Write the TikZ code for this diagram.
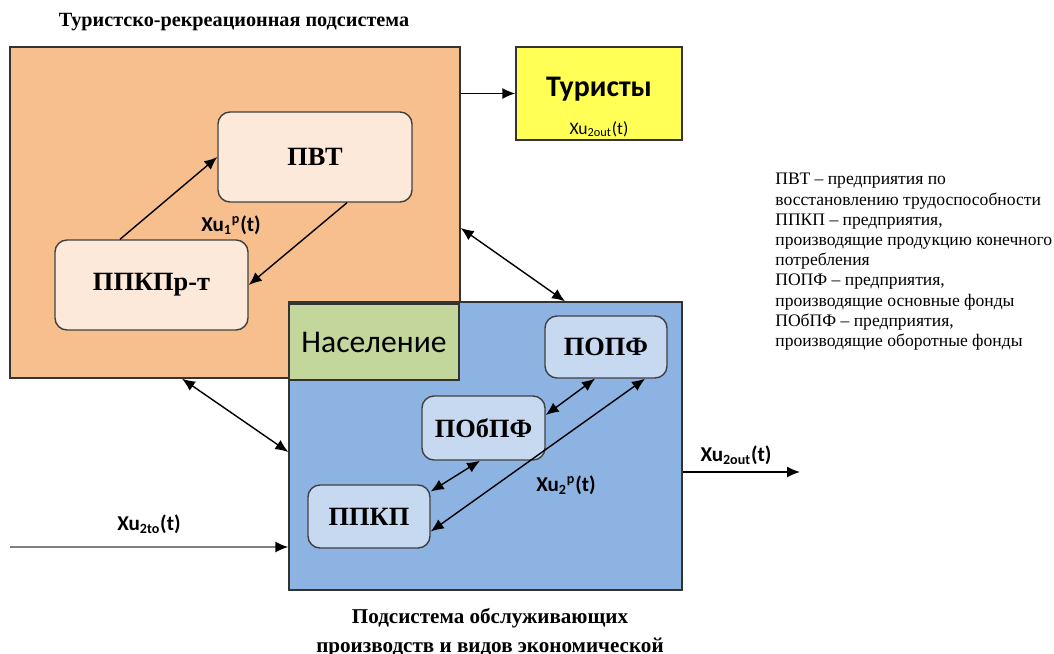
\documentclass[tikz,border=0pt]{standalone}
\usepackage{fontspec}
\setmainfont{Liberation Serif}
\newfontfamily\calibri{Carlito}
\usetikzlibrary{arrows.meta}
\definecolor{trsorange}{HTML}{F8BF8E}
\definecolor{srvblue}{HTML}{8DB3E2}
\definecolor{popgreen}{HTML}{C3D69B}
\definecolor{turyellow}{HTML}{FFFF55}
\definecolor{peach}{HTML}{FDE9D9}
\definecolor{lightblue}{HTML}{C6D9F1}
\begin{document}
\begin{tikzpicture}[x=0.2mm,y=-0.2mm,
    >={Latex[length=2.6mm,width=2.2mm]},
    frame/.style={draw=black!80,thick},
    subbox/.style={draw=black!75,thick,rounded corners=2.4mm,font=\fontsize{15}{17}\selectfont\bfseries},
    lbl/.style={font=\calibri\fontsize{12}{14}\selectfont\bfseries},
    link/.style={thick,->}]
        \useasboundingbox (0,0) rectangle (1054,653);
        %% subsystems
        \node[frame,fill=trsorange,minimum width=90mm,minimum height=66.2mm] (trs) at (235,212.5) {};
        \node[frame,fill=srvblue,minimum width=78.6mm,minimum height=57.6mm] (srv) at (485.5,446) {};
        \node[frame,fill=popgreen,minimum width=34mm,minimum height=15.2mm,font=\calibri\fontsize{18}{20}\selectfont] (pop) at (374,342) {Население};
        \node[font=\fontsize{11.5}{14}\selectfont\bfseries] (trstitle) at (234,22) {Туристско-рекреационная подсистема};
        \node[font=\fontsize{12}{16.3}\selectfont\bfseries,align=center] (srvtitle) at (490,633) {Подсистема обслуживающих\\производств и видов экономической};
        %% tourists
        \node[frame,fill=turyellow,minimum width=33.2mm,minimum height=18.6mm] (tur) at (599,93.5) {};
        \node[font=\calibri\fontsize{17}{19}\selectfont\bfseries] (turname) at (599,89) {Туристы};
        \node[font=\calibri\fontsize{10}{11}\selectfont] (turout) at (599,129) {Xu\textsubscript{2out}(t)};
        \draw[link] (trs.east |- tur.west) -- (tur.west);
        %% tourist-recreation enterprises
        \node[subbox,fill=peach,minimum width=38.8mm,minimum height=18mm] (pvt) at (315,157) {ПВТ};
        \node[subbox,fill=peach,minimum width=38.6mm,minimum height=18mm] (ppkprt) at (151.5,285) {ППКПр-т};
        \draw[link] ([xshift=-6.3mm]ppkprt.north) -- (pvt.west);
        \draw[link] ([xshift=6.4mm]pvt.south) -- (ppkprt.east);
        \node[lbl] (xu1) at (231,225) {Xu\textsubscript{1}\textsuperscript{p}(t)};
        %% service enterprises
        \node[subbox,fill=lightblue,minimum width=24.4mm,minimum height=12.4mm] (popf) at (606,347) {ПОПФ};
        \node[subbox,fill=lightblue,minimum width=24.6mm,minimum height=12.8mm] (pobpf) at (483.5,428) {ПОбПФ};
        \node[subbox,fill=lightblue,minimum width=24.4mm,minimum height=12.6mm] (ppkp) at (369,516.5) {ППКП};
        \draw[thick,<->] ([yshift=2.6mm]pobpf.east) -- ([xshift=-2.2mm]popf.south);
        \draw[thick,<->] ([yshift=5mm]ppkp.east) -- ([xshift=-0.7mm]pobpf.south);
        \draw[thick,<->] ([yshift=-3mm]ppkp.east) -- ([xshift=7.8mm]popf.south);
        \node[lbl] (xu2) at (566,485) {Xu\textsubscript{2}\textsuperscript{p}(t)};
        %% exchange between subsystems
        \draw[thick,<->] ([yshift=-3.1mm]trs.east) -- ([xshift=15.9mm]srv.north);
        \draw[thick,<->] ([xshift=-10.6mm]trs.south) -- ([yshift=-1.2mm]srv.west);
        %% input and output
        \coordinate (inp) at (10,547);
        \draw[thick,gray,-{Latex[length=2.6mm,width=2.2mm,black]}] (inp) -- (inp -| srv.west);
        \node[lbl] (xuin) at (149,524) {Xu\textsubscript{2to}(t)};
        \coordinate (outp) at (800,472);
        \draw[link] (srv.east |- outp) -- (outp);
        \node[lbl] (xuout) at (736,455) {Xu\textsubscript{2out}(t)};
        %% legend
        \node[anchor=north west,align=left,inner sep=0pt,font=\fontsize{10}{11.5}\selectfont] (legend) at (775,173) {ПВТ – предприятия по\\восстановлению трудоспособности\\ППКП – предприятия,\\производящие продукцию конечного\\потребления\\ПОПФ – предприятия,\\производящие основные фонды\\ПОбПФ – предприятия,\\производящие оборотные фонды};
    \end{tikzpicture}
\end{document}
